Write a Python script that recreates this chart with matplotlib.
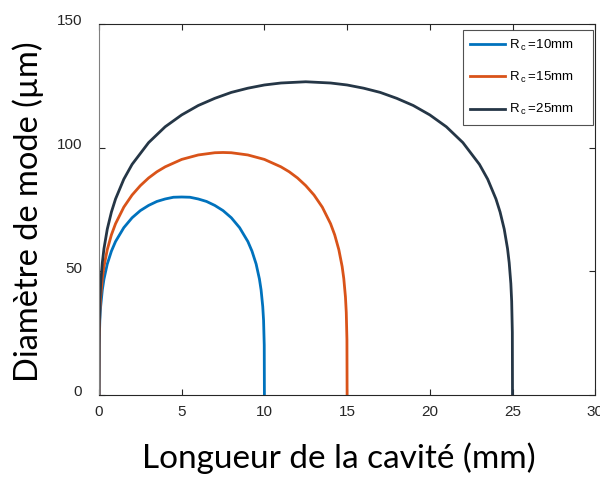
import numpy as np
import matplotlib
matplotlib.use("Agg")
import matplotlib.pyplot as plt
from matplotlib.transforms import ScaledTranslation

plt.rcParams['font.family'] = ['Liberation Sans', 'DejaVu Sans']
plt.rcParams['mathtext.default'] = 'regular'

# values (length in mm, mode diameter in um)
x_r10 = [0, 0.01, 0.05, 0.1, 0.2, 0.3, 0.5, 0.75, 1, 1.5, 2, 2.5, 3, 3.5, 4, 4.5, 5,
         5.5, 6, 6.5, 7, 7.5, 8, 8.5, 9, 9.25, 9.5, 9.7, 9.8, 9.9, 9.95, 9.99, 10]
y_r10 = [0, 20.1, 30.1, 35.7, 42.4, 46.8, 52.9, 58.1, 62.0, 67.6, 71.6, 74.5, 76.6, 78.2, 79.2, 79.9, 80.0,
         79.9, 79.2, 78.2, 76.6, 74.5, 71.6, 67.6, 62.0, 58.1, 52.9, 46.8, 42.4, 35.7, 30.1, 20.1, 0]

x_r15 = [0, 0.01, 0.05, 0.1, 0.2, 0.3, 0.5, 0.75, 1, 1.5, 2, 2.5, 3, 3.5, 4, 5, 6, 7, 7.5,
         8, 9, 10, 11, 11.5, 12, 12.5, 13, 13.5, 14, 14.25, 14.5, 14.7, 14.8, 14.9, 14.95, 14.99, 15]
y_r15 = [0, 22.3, 33.3, 39.6, 47.0, 51.9, 58.7, 64.7, 69.2, 75.9, 80.8, 84.6, 87.7, 90.2, 92.2, 95.2, 97.0, 97.9, 98.0,
         97.9, 97.0, 95.2, 92.2, 90.2, 87.7, 84.6, 80.8, 75.9, 69.2, 64.7, 58.7, 51.9, 47.0, 39.6, 33.3, 22.3, 0]

x_r25 = [0, 0.01, 0.05, 0.1, 0.2, 0.3, 0.5, 0.75, 1, 1.5, 2, 3, 4, 5, 6, 7, 8, 9, 10, 11, 12.5,
         14, 15, 16, 17, 18, 19, 20, 21, 22, 23, 23.5, 24, 24.25, 24.5, 24.7, 24.8, 24.9, 24.95, 24.99, 25]
y_r25 = [0, 25.3, 37.8, 45.0, 53.4, 59.1, 67.0, 73.9, 79.2, 87.2, 93.2, 102.0, 108.4, 113.2, 117.0, 119.9,
         122.3, 124.0, 125.3, 126.1, 126.6,
         126.1, 125.3, 124.0, 122.3, 119.9, 117.0, 113.2, 108.4, 102.0, 93.2, 87.2, 79.2, 73.9, 67.0,
         59.1, 53.4, 45.0, 37.8, 25.3, 0]

# trailing spaces give the wide right margin of the original legend box
labels = [r'R$\,_{c}\,$=10mm    ', r'R$\,_{c}\,$=15mm    ', r'R$\,_{c}\,$=25mm    ']
colors = ['#0072BD', '#D95319', '#253646']

fig = plt.figure(figsize=(6, 4.78), dpi=100)
ax = fig.add_axes([0.165, 0.174, 0.827, 0.776])

for xs, ys, lab, c in zip([x_r10, x_r15, x_r25], [y_r10, y_r15, y_r25], labels, colors):
    ax.plot(xs, ys, color=c, lw=2.0, label=lab)

ax.set_xlim(0, 30)
ax.set_ylim(0, 150)
ax.set_xticks([0, 5, 10, 15, 20, 25, 30])
ax.set_yticks([0, 50, 100, 150])
ax.tick_params(direction='in', top=True, right=True, length=4, width=0.8,
               labelsize=11, colors='#262626')
ax.tick_params(axis='x', pad=7)
ax.tick_params(axis='y', pad=12)
# y tick labels sit a little above their ticks in the reference
for t in ax.get_yticklabels():
    t.set_transform(t.get_transform() + ScaledTranslation(0, 3 / 72, fig.dpi_scale_trans))
for s in ax.spines.values():
    s.set_color('#262626')
    s.set_linewidth(0.8)
ax.spines['left'].set_color('#808080')

ax.set_xlabel('Longueur de la cavité (mm)', fontsize=24, family=['Lato', 'DejaVu Sans'], labelpad=17)
ax.xaxis.label.set_x(0.484)
ax.set_ylabel('Diamètre de mode (µm)', fontsize=23.5, family=['Lato', 'DejaVu Sans'], labelpad=9)
ax.yaxis.label.set_y(0.495)

leg = ax.legend(loc='upper right', bbox_to_anchor=(0.996, 0.984), fontsize=9.5,
                frameon=True, fancybox=False, handlelength=2.6, handletextpad=0.3,
                labelspacing=1.3, borderpad=0.6, borderaxespad=0)
leg.get_frame().set_edgecolor('#262626')
leg.get_frame().set_linewidth(0.8)

fig.savefig('out.png', dpi=100)
